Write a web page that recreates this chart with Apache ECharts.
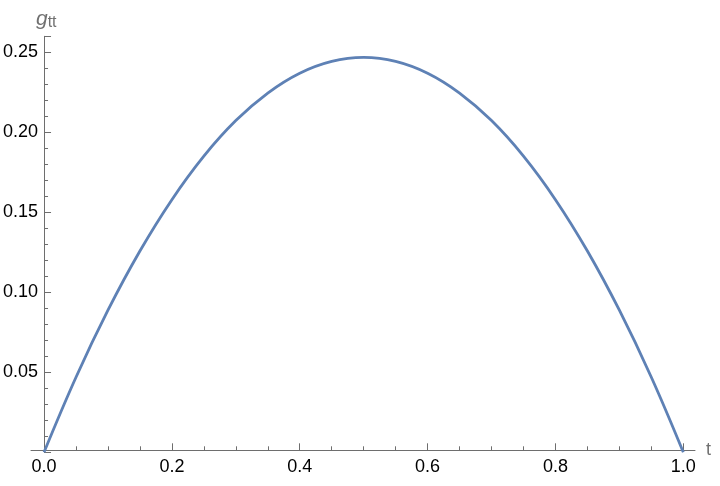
<!DOCTYPE html>
<html>
<head>
<meta charset="utf-8">
<script src="https://cdn.jsdelivr.net/npm/echarts@6/dist/echarts.min.js"></script>
<style>html,body{margin:0;padding:0;background:#fff}#c{width:720px;height:486px}</style>
</head>
<body>
<div id="c"></div>
<script>
// t values and g_tt values
const tValues = [0, 0.05, 0.1, 0.15, 0.2, 0.25, 0.3, 0.35, 0.4, 0.45, 0.5, 0.55, 0.6, 0.65, 0.7, 0.75, 0.8, 0.85, 0.9, 0.95, 1.0];
const gValues = [0, 0.0469, 0.0888, 0.1258, 0.1579, 0.1851, 0.2073, 0.2245, 0.2369, 0.2443, 0.2468, 0.2443, 0.2369, 0.2245, 0.2073, 0.1851, 0.1579, 0.1258, 0.0888, 0.0469, 0];
const xTickLabels = ["0.0", "0.2", "0.4", "0.6", "0.8", "1.0"];
const yTickLabels = ["0.05", "0.10", "0.15", "0.20", "0.25"];

const axisColor = '#6e6e6e';
const font = 'Liberation Sans, Arial, sans-serif';
const chart = echarts.init(document.getElementById('c'), null, {renderer: 'canvas'});
chart.setOption({
  animation: false,
  backgroundColor: '#fff',
  title: {
    text: '{g|g}{s|tt}',
    left: 31, top: 2,
    textStyle: {
      fontWeight: 'normal',
      rich: {
        g: {fontFamily: font, fontStyle: 'italic', fontWeight: 'normal', fontSize: 21, color: '#707070'},
        s: {fontFamily: font, fontWeight: 'normal', fontSize: 16, color: '#707070', verticalAlign: 'bottom', padding: [8, 0, 0, 0]}
      }
    }
  },
  grid: [
    {left: 43.3, right: 36.7, top: 36.3, bottom: 33.7},
    {left: 31, right: 25, top: 36.3, bottom: 36}
  ],
  xAxis: [
    {
      type: 'value', gridIndex: 0, min: 0, max: 1, interval: 0.2, offset: -2,
      axisLine: {show: false},
      axisTick: {show: true, inside: true, length: 7, lineStyle: {color: axisColor}},
      minorTick: {show: true, splitNumber: 4, length: 4, lineStyle: {color: axisColor}},
      splitLine: {show: false},
      axisLabel: {
        margin: 8, color: '#000', fontSize: 18, fontFamily: font,
        formatter: v => { const i = Math.round(v / 0.2); return xTickLabels[i] !== undefined ? xTickLabels[i] : ''; }
      }
    },
    {
      type: 'value', gridIndex: 1, min: 0, max: 1,
      name: 't', nameLocation: 'end', nameGap: 11,
      nameTextStyle: {color: '#707070', fontSize: 18, fontFamily: font, verticalAlign: 'middle'},
      axisLine: {show: true, onZero: false, lineStyle: {color: axisColor, width: 1}},
      axisTick: {show: false}, axisLabel: {show: false}, splitLine: {show: false}
    }
  ],
  yAxis: [
    {
      type: 'value', gridIndex: 0, min: 0, max: 0.26, interval: 0.05,
      axisLine: {show: true, onZero: false, lineStyle: {color: axisColor, width: 1}},
      axisTick: {show: true, inside: true, length: 7, lineStyle: {color: axisColor}},
      minorTick: {show: true, splitNumber: 5, length: 4, lineStyle: {color: axisColor}},
      splitLine: {show: false},
      axisLabel: {
        margin: 6, color: '#000', fontSize: 18, fontFamily: font,
        formatter: v => { const i = Math.round(v / 0.05) - 1; return (i >= 0 && yTickLabels[i]) ? yTickLabels[i] : ''; }
      }
    },
    {
      type: 'value', gridIndex: 1, min: 0, max: 1, show: false
    }
  ],
  series: [{
    type: 'line', xAxisIndex: 0, yAxisIndex: 0,
    data: tValues.map((t, i) => [t, gValues[i]]),
    smooth: 0.4, showSymbol: false, clip: false,
    lineStyle: {color: '#5E81B5', width: 2.8}
  }]
});
</script>
</body>
</html>
